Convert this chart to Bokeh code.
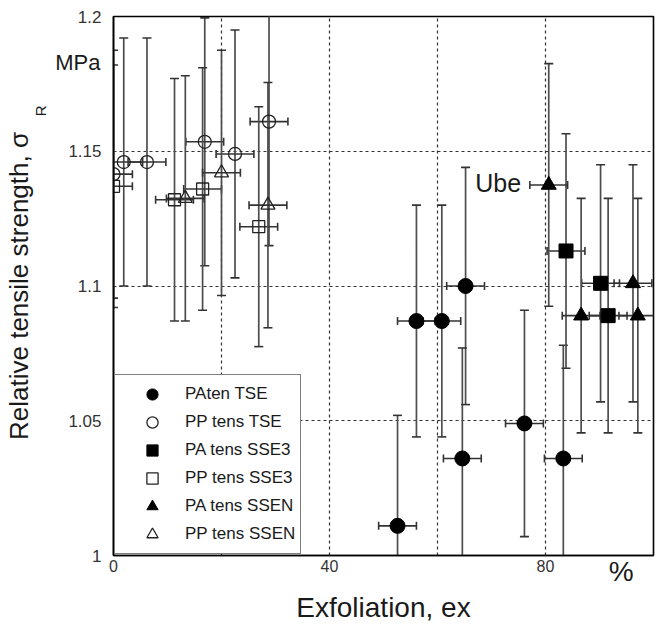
import math
from bokeh.plotting import figure
from bokeh.models import (ColumnDataSource, FixedTicker, Label, Legend, LegendItem, Range1d, LinearAxis)
from bokeh.embed import file_html
from bokeh.resources import INLINE

# ---------------- data ----------------
pa_tse_x = [52.6, 56.1, 60.8, 64.6, 65.2, 76.1, 83.3]
pa_tse_y = [1.011, 1.087, 1.087, 1.036, 1.100, 1.049, 1.036]
pa_tse_ey = [0.041, 0.043, 0.043, 0.041, 0.044, 0.042, 0.042]
pa_tse_ex = [3.5, 3.5, 3.5, 3.5, 3.5, 3.5, 3.5]

pp_tse_x = [0.0, 1.9, 6.2, 16.9, 22.5, 28.8]
pp_tse_y = [1.1415, 1.146, 1.146, 1.1535, 1.149, 1.161]
pp_tse_ey = [0.046, 0.046, 0.046, 0.046, 0.046, 0.046]
pp_tse_ex = [3.5, 3.5, 3.5, 3.5, 3.5, 3.5]

pa_sse3_x = [83.8, 90.2, 91.6]
pa_sse3_y = [1.113, 1.101, 1.089]
pa_sse3_ey = [0.0435, 0.044, 0.0435]
pa_sse3_ex = [3.5, 3.5, 3.5]

pp_sse3_x = [0.0, 11.3, 16.5, 26.9]
pp_sse3_y = [1.137, 1.132, 1.136, 1.122]
pp_sse3_ey = [0.045, 0.045, 0.045, 0.0445]
pp_sse3_ex = [3.5, 3.5, 3.5, 3.5]

pa_ssen_x = [80.6, 86.6, 96.2, 97.1]
pa_ssen_y = [1.1375, 1.089, 1.101, 1.089]
pa_ssen_ey = [0.045, 0.0435, 0.044, 0.0435]
pa_ssen_ex = [3.5, 3.5, 3.5, 3.5]

pp_ssen_x = [13.3, 20.0, 28.6]
pp_ssen_y = [1.1325, 1.142, 1.130]
pp_ssen_ey = [0.0455, 0.0455, 0.0455]
pp_ssen_ex = [3.5, 3.5, 3.5]

x_ticks = [0, 40, 80]
y_ticks = [1.0, 1.05, 1.1, 1.15, 1.2]
y_tick_labels = ["1", "1.05", "1.1", "1.15", "1.2"]
x_grid = [20, 40, 60, 80]
y_grid = [1.05, 1.1, 1.15]
unit_x_pos = 94.0    # "%" unit label on the x axis
unit_y_pos = 1.183   # "MPa" unit label on the y axis
sub_pos = 1.165      # subscript "R" of the y title

series = [
    ("PAten TSE", pa_tse_x, pa_tse_y, pa_tse_ex, pa_tse_ey, "circle", True, 15),
    ("PP tens TSE", pp_tse_x, pp_tse_y, pp_tse_ex, pp_tse_ey, "circle", False, 13),
    ("PA tens SSE3", pa_sse3_x, pa_sse3_y, pa_sse3_ex, pa_sse3_ey, "square", True, 14),
    ("PP tens SSE3", pp_sse3_x, pp_sse3_y, pp_sse3_ex, pp_sse3_ey, "square", False, 12),
    ("PA tens SSEN", pa_ssen_x, pa_ssen_y, pa_ssen_ex, pa_ssen_ey, "triangle", True, 15),
    ("PP tens SSEN", pp_ssen_x, pp_ssen_y, pp_ssen_ex, pp_ssen_ey, "triangle", False, 14),
]

FONT = "Liberation Sans"
TXT = "#1a1a1a"
W, H = 656, 625

p = figure(width=W, height=H, output_backend="svg", toolbar_location=None,
           x_range=Range1d(0, 100), y_range=Range1d(1.0, 1.2),
           min_border_left=112, min_border_right=3, min_border_top=16, min_border_bottom=69)
p.background_fill_color = "white"
p.border_fill_color = "white"
p.outline_line_color = "black"
p.outline_line_width = 1.6

# grids
p.xgrid.ticker = FixedTicker(ticks=x_grid)
p.ygrid.ticker = FixedTicker(ticks=y_grid)
for g in (p.xgrid, p.ygrid):
    g.grid_line_color = "#333333"
    g.grid_line_dash = "3 3"
    g.grid_line_width = 1.2

NOTICK = dict(major_tick_out=0, major_tick_in=0, minor_tick_out=0, minor_tick_in=0)

# primary axes
p.xaxis.ticker = FixedTicker(ticks=x_ticks)
p.yaxis.ticker = FixedTicker(ticks=y_ticks)
p.yaxis.major_label_overrides = {t: s for t, s in zip(y_ticks, y_tick_labels)}
for ax in (p.xaxis, p.yaxis):
    ax.axis_line_color = "black"
    ax.axis_line_width = 1.6
    ax.update(**NOTICK)
    ax.major_label_text_font = FONT
    ax.major_label_text_color = "#333333"
p.xaxis.major_label_text_font_size = "16px"
p.yaxis.major_label_text_font_size = "17px"
p.xaxis.major_label_standoff = 4
p.yaxis.major_label_standoff = 12

# unit "MPa" on the y axis (pulled back into the tick-label band)
ya_unit = LinearAxis(ticker=FixedTicker(ticks=[unit_y_pos]), major_label_overrides={unit_y_pos: "MPa"},
                     axis_line_color=None, major_label_standoff=-35, major_label_text_font=FONT,
                     major_label_text_font_size="22px", major_label_text_color=TXT, **NOTICK)
p.add_layout(ya_unit, "left")

# subscript "R" and the y title
ya_title = LinearAxis(ticker=FixedTicker(ticks=[sub_pos]), major_label_overrides={sub_pos: "R"},
                      major_label_orientation="vertical", axis_line_color=None,
                      major_label_standoff=3, major_label_text_font=FONT,
                      major_label_text_font_size="15px", major_label_text_color=TXT,
                      axis_label="Relative tensile strength, σ", axis_label_text_font=FONT,
                      axis_label_text_font_size="26px", axis_label_text_font_style="normal",
                      axis_label_text_color=TXT, axis_label_standoff=-4, **NOTICK)
p.add_layout(ya_title, "left")

# unit "%" on the x axis (pulled back into the tick-label band) and the x title
xa_unit = LinearAxis(ticker=FixedTicker(ticks=[unit_x_pos]), major_label_overrides={unit_x_pos: "%"},
                     axis_line_color=None, major_label_standoff=-19, major_label_text_font=FONT,
                     major_label_text_font_size="28px", major_label_text_color=TXT,
                     axis_label="Exfoliation, ex", axis_label_text_font=FONT,
                     axis_label_text_font_size="28px", axis_label_text_font_style="normal",
                     axis_label_text_color=TXT, axis_label_standoff=2, **NOTICK)
p.add_layout(xa_unit, "below")

# error bars
for name, xs, ys, exs, eys, mk, filled, sz in series:
    src = ColumnDataSource(dict(
        x=xs, y=ys,
        y0=[y - e for y, e in zip(ys, eys)], y1=[y + e for y, e in zip(ys, eys)],
        x0=[x - e for x, e in zip(xs, exs)], x1=[x + e for x, e in zip(xs, exs)],
    ))
    p.segment(x0="x", y0="y0", x1="x", y1="y1", source=src, line_color="#4d4d4d", line_width=1.7)
    p.segment(x0="x0", y0="y", x1="x1", y1="y", source=src, line_color="#333333", line_width=1.6)
    p.scatter(x="x", y="y0", source=src, marker="dash", size=9, line_color="#333333", line_width=1.6)
    p.scatter(x="x", y="y1", source=src, marker="dash", size=9, line_color="#333333", line_width=1.6)
    p.scatter(x="x0", y="y", source=src, marker="dash", angle=math.pi / 2, size=8, line_color="#333333", line_width=1.6)
    p.scatter(x="x1", y="y", source=src, marker="dash", angle=math.pi / 2, size=8, line_color="#333333", line_width=1.6)

# markers
items = []
for name, xs, ys, exs, eys, mk, filled, sz in series:
    src = ColumnDataSource(dict(x=xs, y=ys))
    if filled:
        r = p.scatter(x="x", y="y", source=src, marker=mk, size=sz,
                      fill_color="black", line_color="black", line_width=1)
    else:
        r = p.scatter(x="x", y="y", source=src, marker=mk, size=sz,
                      fill_color="white", fill_alpha=0, line_color="#222222", line_width=1.3)
    items.append(LegendItem(label=name, renderers=[r]))

legend = Legend(items=items, location=(1, 1))
legend.label_text_font = FONT
legend.label_text_font_size = "17px"
legend.label_text_color = TXT
legend.label_height = 28
legend.glyph_height = 28
legend.glyph_width = 64
legend.label_standoff = 1
legend.spacing = 0
legend.padding = 5
legend.margin = 0
legend.border_line_color = "black"
legend.border_line_width = 1.6
legend.background_fill_color = "white"
legend.background_fill_alpha = 1
p.add_layout(legend)

p.add_layout(Label(x=67.0, y=1.1381, text="Ube", text_font=FONT, text_font_size="25px",
                   text_color=TXT, text_baseline="middle", text_align="left"))

open("out.html", "w").write(file_html(p, INLINE))
